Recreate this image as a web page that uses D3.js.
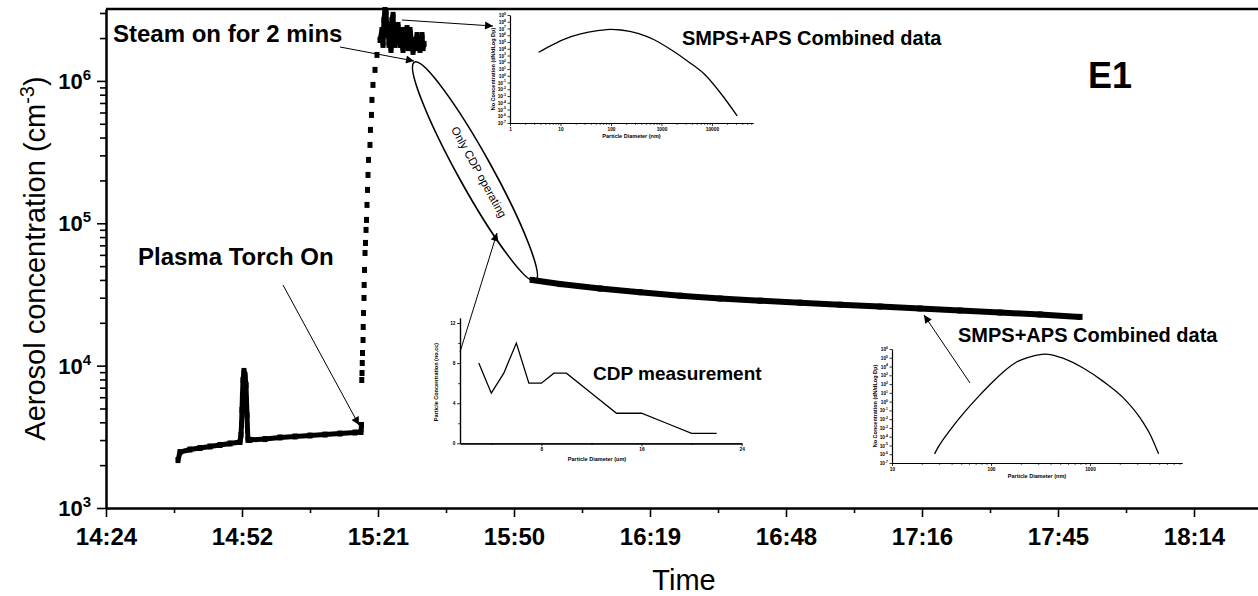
<!DOCTYPE html>
<html>
<head>
<meta charset="utf-8">
<title>Aerosol concentration E1</title>
<style>
    body { margin: 0; background: #fff; }
    svg { font-family: Arial, "Liberation Sans", sans-serif; }
</style>
</head>
<body>
<svg width="1258" height="596"></svg>
<script src="https://cdnjs.cloudflare.com/ajax/libs/d3/7.8.5/d3.min.js"></script>
<script>
    // main series: time of day and aerosol concentration (cm^-3)
    var lowTimes = ["14:39:15","14:39:40","14:41:47","14:43:54","14:46:01","14:48:08","14:50:16","14:52:23",
        "14:52:35","14:52:42","14:52:48","14:52:54","14:53:01","14:53:13","14:53:26","14:53:39","14:53:45","14:53:52","14:53:58","14:54:04",
        "14:54:30","14:57:40","15:00:51","15:04:02","15:07:12","15:10:23","15:13:33","15:16:44","15:18:00","15:18:06"];
    var lowValues = [2170,2470,2575,2640,2705,2772,2840,2910,
        3260,3830,4880,6230,7930,9180,8600,7310,5740,4500,3530,3010,
        3010,3050,3130,3180,3230,3280,3335,3390,3420,3830];

    var riseTimes = ["15:18:10","15:18:13","15:18:16","15:18:19","15:18:26","15:18:28","15:18:32","15:18:38","15:18:40",
        "15:18:45","15:18:51","15:18:57","15:19:04","15:19:10","15:19:16","15:19:23","15:19:29","15:19:35",
        "15:19:54","15:20:00","15:20:13","15:20:19","15:20:32","15:20:58","15:21:23"];
    var riseValues = [7930,8880,10440,12270,15140,18690,23440,29880,36880,
        47000,61880,72760,89800,105600,134600,171500,218600,278600,
        355100,452700,577000,735500,937600,1.195e6,1.523e6];

    var peakTimes = ["15:22:02","15:22:27","15:22:40","15:22:52","15:23:05","15:23:18","15:23:31","15:23:43","15:23:56","15:24:09",
        "15:24:21","15:24:34","15:24:47","15:24:59","15:25:12","15:25:25","15:25:38","15:25:50","15:26:03","15:26:16",
        "15:26:28","15:26:41","15:26:54","15:27:07","15:27:19","15:27:32","15:27:45","15:27:57","15:28:10","15:28:23",
        "15:28:48","15:29:01","15:29:26","15:29:39","15:29:52","15:30:04","15:30:17","15:30:30","15:30:43","15:30:55",
        "15:31:08","15:31:21"];
    var peakValues = [1.94e6,2.28e6,1.79e6,2.68e6,3.15e6,3.05e6,2.10e6,2.47e6,1.79e6,2.28e6,
        1.65e6,2.68e6,2.91e6,1.94e6,1.79e6,2.28e6,1.94e6,2.47e6,2.10e6,1.79e6,
        2.28e6,1.79e6,1.65e6,2.0e6,2.28e6,1.79e6,2.35e6,1.70e6,1.94e6,2.28e6,
        1.79e6,1.6e6,1.94e6,1.70e6,2.10e6,1.79e6,2.0e6,1.65e6,1.87e6,2.10e6,
        1.70e6,1.82e6];

    var decayTimes = ["15:54:13","16:00:09","16:08:37","16:17:05","16:25:34","16:34:02","16:42:30","16:50:58",
        "16:59:26","17:07:55","17:16:23","17:24:51","17:33:20","17:41:48","17:50:16"];
    var decayValues = [40000,37400,34800,32800,31000,29600,28600,27700,26800,26000,25200,24400,23600,22900,22000];

    // axis ticks (Origin day-fraction ticks, every 0.02 day)
    var xTicks = ["14:24:00","14:52:48","15:21:36","15:50:24","16:19:12","16:48:00","17:16:48","17:45:36","18:14:24"];
    var yTicks = [1e3, 1e4, 1e5, 1e6];

    // insets: SMPS+APS size distributions and CDP measurement
    var smpsTopDiam = [3.69, 5.41, 11.7, 25.1, 54.1, 100, 158, 341, 735, 1585, 3415, 7360, 15850, 31600];
    var smpsTopConc = [2950, 14500, 2.5e5, 1.55e6, 4.7e6, 7.6e6, 6.0e6, 1.95e6, 2.0e5, 6500, 120, 1.3, 1.4e-3, 1.1e-6];

    var smpsLowDiam = [26.9, 29.6, 38.8, 52.9, 72.2, 98.4, 134, 183, 249, 350, 541, 861, 1371, 2183, 3219, 4064, 4930];
    var smpsLowConc = [1.1e-6, 7.8e-6, 6e-4, 0.048, 2.5, 95, 2600, 3.5e4, 1.3e5, 2.6e5, 8.5e4, 6300, 190, 2.5, 0.013, 1.7e-4, 1.1e-6];

    var cdpDiam = [3, 4, 5, 6, 7, 8, 9, 10, 12, 14, 16, 18, 20, 22];
    var cdpConc = [8, 5, 7, 10, 6, 6, 7, 7, 5, 3, 3, 2, 1, 1];

    var parseTime = d3.timeParse("%H:%M:%S");
    var svg = d3.select("svg");
    svg.append("rect").attr("width", 1258).attr("height", 596).attr("fill", "#fff");

    var plotL = 106, plotR = 1262, plotT = 9, plotB = 508;

    var x = d3.scaleTime()
        .domain([parseTime("14:24:00"), parseTime("18:28:48")])
        .range([plotL, plotR]);
    var y = d3.scaleLog().domain([1e3, 3.2e6]).range([plotB, plotT]);

    function pairs(times, values) {
        return times.map(function(t, i) { return { t: parseTime(t), v: values[i] }; });
    }
    var line = d3.line()
        .x(function(d) { return x(d.t); })
        .y(function(d) { return y(d.v); });

    // ---- main series ----
    var series = svg.append("g");
    [pairs(lowTimes, lowValues), pairs(peakTimes, peakValues), pairs(decayTimes, decayValues)].forEach(function(seg, i) {
        series.append("path")
            .datum(seg)
            .attr("d", line)
            .attr("fill", "none")
            .attr("stroke", "#000")
            .attr("stroke-width", i == 2 ? 6 : 5)
            .attr("stroke-linejoin", "round");
    });
    var allPts = pairs(lowTimes, lowValues).concat(pairs(riseTimes, riseValues), pairs(peakTimes, peakValues), pairs(decayTimes, decayValues));
    series.selectAll("rect.pt")
        .data(allPts)
        .enter().append("rect")
        .attr("class", "pt")
        .attr("x", function(d) { return x(d.t) - 2.5; })
        .attr("y", function(d) { return y(d.v) - 3; })
        .attr("width", 5)
        .attr("height", 6)
        .attr("fill", "#000");

    // ---- main axes ----
    var majorDates = xTicks.map(parseTime);
    var minorDates = majorDates.map(function(d) { return new Date(+d + 14.4 * 60000); });

    var gx = svg.append("g").attr("transform", "translate(0," + plotB + ")");
    gx.call(d3.axisBottom(x).tickValues(minorDates).tickSize(5).tickSizeOuter(0).tickFormat(""));
    gx.append("g").call(d3.axisBottom(x).tickValues(majorDates).tickSize(9).tickPadding(11).tickSizeOuter(0)
        .tickFormat(d3.timeFormat("%H:%M")));
    gx.selectAll("text").attr("font-size", 24).attr("font-weight", "bold").attr("font-family", "Arial, 'Liberation Sans', sans-serif");

    var yMinor = [];
    [1e3, 1e4, 1e5, 1e6].forEach(function(p) {
        for (var k = 2; k <= 9; k++) if (p * k <= 3.2e6) yMinor.push(p * k);
    });
    var gy = svg.append("g").attr("transform", "translate(" + plotL + ",0)");
    gy.call(d3.axisLeft(y).tickValues(yMinor).tickSize(6).tickSizeOuter(0).tickFormat(""));
    gy.append("g").call(d3.axisLeft(y).tickValues(yTicks).tickSize(9).tickSizeOuter(0).tickFormat(""));
    gy.selectAll("line").attr("stroke-width", 1.6);
    gx.selectAll("line").attr("stroke-width", 1.6);
    svg.selectAll(".domain").attr("stroke-width", 2);

    yTicks.forEach(function(v) {
        var t = svg.append("text")
            .attr("x", plotL - 15)
            .attr("y", y(v) + 8)
            .attr("text-anchor", "end")
            .attr("font-size", 22)
            .attr("font-weight", "bold");
        t.append("tspan").text("10");
        t.append("tspan").attr("dy", -9).attr("font-size", 15).text(Math.round(Math.log10(v)));
    });

    // top frame line
    svg.append("line").attr("x1", plotL).attr("x2", plotR).attr("y1", plotT).attr("y2", plotT)
        .attr("stroke", "#000").attr("stroke-width", 2.5);

    // axis titles
    var yt = svg.append("text")
        .attr("transform", "translate(45," + ((plotT + plotB) / 2) + ") rotate(-90)")
        .attr("text-anchor", "middle")
        .attr("font-size", 29);
    yt.append("tspan").text("Aerosol concentration (cm");
    yt.append("tspan").attr("dy", -11).attr("font-size", 20).text("-3");
    yt.append("tspan").attr("dy", 11).text(")");

    svg.append("text").attr("x", (plotL + plotR) / 2).attr("y", 590)
        .attr("text-anchor", "middle").attr("font-size", 29).text("Time");

    // ---- insets ----
    function supTicks(g, size) {
        g.selectAll(".tick text").each(function(d) {
            var t = d3.select(this).text(null);
            t.append("tspan").text("10");
            t.append("tspan").attr("dy", -size * 0.45).attr("font-size", size * 0.7).text(Math.round(Math.log10(d)));
        });
    }
    function minorLog(lo, hi) {
        var out = [];
        for (var p = lo; p < hi; p *= 10)
            for (var k = 2; k <= 9; k++) if (p * k <= hi) out.push(p * k);
        return out;
    }
    function logInset(cfg) {
        var g = svg.append("g");
        var ix = d3.scaleLog().domain(cfg.xd).range([cfg.l, cfg.r]);
        var iy = d3.scaleLog().domain(cfg.yd).range([cfg.b, cfg.t]);
        var ax = g.append("g").attr("transform", "translate(0," + cfg.b + ")");
        ax.call(d3.axisBottom(ix).tickValues(minorLog(cfg.xd[0], cfg.xd[1])).tickSize(1.8).tickSizeOuter(0).tickFormat(""));
        ax.append("g").call(d3.axisBottom(ix).tickValues(cfg.xt).tickSize(3).tickPadding(1.5).tickSizeOuter(0).tickFormat(d3.format("d")));
        var yv = [];
        for (var e = cfg.ye[0]; e <= cfg.ye[1]; e++) yv.push(Math.pow(10, e));
        var ay = g.append("g").attr("transform", "translate(" + cfg.l + ",0)");
        ay.call(d3.axisLeft(iy).tickValues(yv).tickSize(2.5).tickPadding(1.5).tickSizeOuter(0).tickFormat(d3.format("")));
        supTicks(ay, 4.8);
        g.selectAll("text").attr("font-size", 4.8).attr("font-weight", "bold").attr("font-family", "Arial, 'Liberation Sans', sans-serif");
        g.selectAll(".tick tspan:nth-child(2)").attr("font-size", 3.4);
        g.selectAll(".domain").attr("stroke-width", 1.2);
        g.selectAll("line").attr("stroke-width", 0.8);
        g.append("path")
            .datum(cfg.dx.map(function(d, i) { return [d, cfg.dy[i]]; }))
            .attr("d", d3.line().curve(d3.curveMonotoneX).x(function(d) { return ix(d[0]); }).y(function(d) { return iy(d[1]); }))
            .attr("fill", "none").attr("stroke", "#000").attr("stroke-width", 1.3);
        g.append("text").attr("x", (cfg.l + cfg.r) / 2).attr("y", cfg.b + 15)
            .attr("text-anchor", "middle").attr("font-size", 5.5).attr("font-weight", "bold")
            .text("Particle Diameter (nm)");
        g.append("text").attr("transform", "translate(" + (cfg.l - 15) + "," + ((cfg.t + cfg.b) / 2) + ") rotate(-90)")
            .attr("text-anchor", "middle").attr("font-size", 5.5).attr("font-weight", "bold")
            .text("No Concentration (dN/dLog Dp)");
    }

    logInset({ l: 510, r: 753, t: 15, b: 123, xd: [1, 65000], yd: [1e-7, 1e9], ye: [-7, 9],
        xt: [1, 10, 100, 1000, 10000], dx: smpsTopDiam, dy: smpsTopConc });
    logInset({ l: 892, r: 1182, t: 349, b: 463, xd: [10, 8500], yd: [1e-7, 1e6], ye: [-7, 6],
        xt: [10, 100, 1000], dx: smpsLowDiam, dy: smpsLowConc });

    // CDP inset (linear)
    var cg = svg.append("g");
    var cx = d3.scaleLinear().domain([1.5, 24]).range([460, 741.7]);
    var cy = d3.scaleLinear().domain([0, 12.5]).range([443.3, 318]);
    var cax = cg.append("g").attr("transform", "translate(0,443.3)");
    cax.call(d3.axisBottom(cx).tickValues([4, 12, 20]).tickSize(1.8).tickSizeOuter(0).tickFormat(""));
    cax.append("g").call(d3.axisBottom(cx).tickValues([8, 16, 24]).tickSize(3).tickPadding(1.5).tickSizeOuter(0));
    var cay = cg.append("g").attr("transform", "translate(460,0)");
    cay.call(d3.axisLeft(cy).tickValues([2, 6, 10]).tickSize(1.8).tickSizeOuter(0).tickFormat(""));
    cay.append("g").call(d3.axisLeft(cy).tickValues([0, 4, 8, 12]).tickSize(3).tickPadding(1.5).tickSizeOuter(0));
    cg.selectAll("text").attr("font-size", 4.8).attr("font-weight", "bold").attr("font-family", "Arial, 'Liberation Sans', sans-serif");
    cg.selectAll(".domain").attr("stroke-width", 1.2);
    cg.selectAll("line").attr("stroke-width", 0.8);
    cg.append("path")
        .datum(cdpDiam.map(function(d, i) { return [d, cdpConc[i]]; }))
        .attr("d", d3.line().x(function(d) { return cx(d[0]); }).y(function(d) { return cy(d[1]); }))
        .attr("fill", "none").attr("stroke", "#000").attr("stroke-width", 1.3);
    cg.append("text").attr("x", 597).attr("y", 461).attr("text-anchor", "middle")
        .attr("font-size", 5.5).attr("font-weight", "bold").text("Particle Diameter (um)");
    cg.append("text").attr("transform", "translate(438,382) rotate(-90)").attr("text-anchor", "middle")
        .attr("font-size", 5.5).attr("font-weight", "bold").text("Particle Concentration (no.cc)");

    // ---- annotations ----
    var defs = svg.append("defs");
    defs.append("marker").attr("id", "head")
        .attr("viewBox", "0 0 10 10").attr("refX", 10).attr("refY", 5)
        .attr("markerWidth", 14).attr("markerHeight", 8).attr("markerUnits", "userSpaceOnUse")
        .attr("orient", "auto")
        .append("path").attr("d", "M0,0L10,5L0,10z").attr("fill", "#000");

    var arrows = [
        [283, 285, 359, 425],   // plasma torch
        [340, 47, 414, 61],     // steam
        [402, 20, 493, 26],     // to top inset
        [460, 352, 497, 233],   // CDP
        [970, 383, 924, 315]    // SMPS lower
    ];
    svg.selectAll("line.arrow")
        .data(arrows)
        .enter().append("line")
        .attr("class", "arrow")
        .attr("x1", function(d) { return d[0]; }).attr("y1", function(d) { return d[1]; })
        .attr("x2", function(d) { return d[2]; }).attr("y2", function(d) { return d[3]; })
        .attr("stroke", "#000").attr("stroke-width", 1)
        .attr("marker-end", "url(#head)");

    svg.append("ellipse")
        .attr("transform", "translate(475,171.5) rotate(61)")
        .attr("rx", 125).attr("ry", 17)
        .attr("fill", "none").attr("stroke", "#000").attr("stroke-width", 1.6);
    svg.append("text")
        .attr("transform", "translate(479,172) rotate(61)")
        .attr("text-anchor", "middle").attr("dy", "0.35em")
        .attr("font-size", 11.5).text("Only CDP operating");

    var labels = [
        { x: 113, y: 42, s: 24, t: "Steam on for 2 mins" },
        { x: 138, y: 265, s: 24, t: "Plasma Torch On" },
        { x: 682, y: 45, s: 20, t: "SMPS+APS Combined data" },
        { x: 958, y: 342, s: 20, t: "SMPS+APS Combined data" },
        { x: 593, y: 380, s: 19, t: "CDP measurement" },
        { x: 1088, y: 88, s: 36, t: "E1" }
    ];
    svg.selectAll("text.note")
        .data(labels)
        .enter().append("text")
        .attr("class", "note")
        .attr("x", function(d) { return d.x; })
        .attr("y", function(d) { return d.y; })
        .attr("font-size", function(d) { return d.s; })
        .attr("font-weight", "bold")
        .text(function(d) { return d.t; });
</script>
</body>
</html>
